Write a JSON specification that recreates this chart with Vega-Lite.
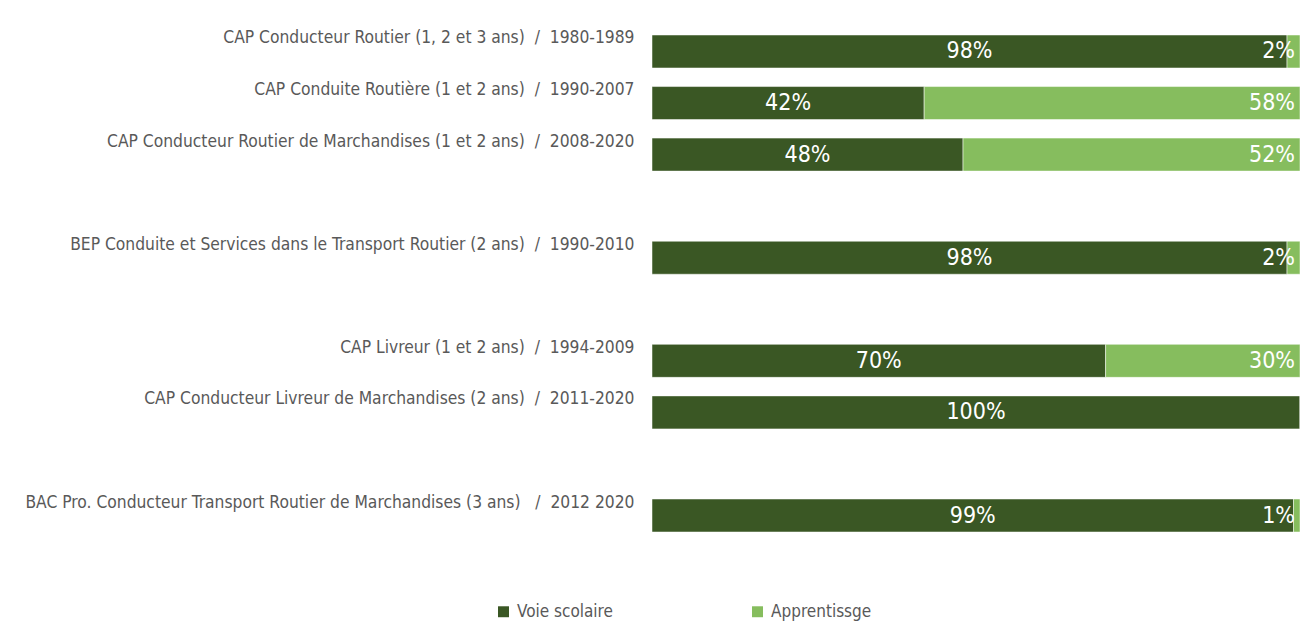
{
  "$schema": "https://vega.github.io/schema/vega-lite/v6.json",
  "autosize": {"type": "none"},
  "padding": {"left": 652, "top": 35, "right": 3, "bottom": 93},
  "width": 648,
  "height": 497,
  "background": "white",
  "config": {
    "font": "DejaVu Sans Condensed, sans-serif",
    "view": {"stroke": null}
  },
  "data": {
    "values": [
      {"label": "CAP Conducteur Routier (1, 2 et 3 ans)  /  1980-1989", "type": "Voie scolaire", "value": 0.98},
      {"label": "CAP Conducteur Routier (1, 2 et 3 ans)  /  1980-1989", "type": "Apprentissge", "value": 0.02},
      {"label": "CAP Conduite Routière (1 et 2 ans)  /  1990-2007", "type": "Voie scolaire", "value": 0.42},
      {"label": "CAP Conduite Routière (1 et 2 ans)  /  1990-2007", "type": "Apprentissge", "value": 0.58},
      {"label": "CAP Conducteur Routier de Marchandises (1 et 2 ans)  /  2008-2020", "type": "Voie scolaire", "value": 0.48},
      {"label": "CAP Conducteur Routier de Marchandises (1 et 2 ans)  /  2008-2020", "type": "Apprentissge", "value": 0.52},
      {"label": "BEP Conduite et Services dans le Transport Routier (2 ans)  /  1990-2010", "type": "Voie scolaire", "value": 0.98},
      {"label": "BEP Conduite et Services dans le Transport Routier (2 ans)  /  1990-2010", "type": "Apprentissge", "value": 0.02},
      {"label": "CAP Livreur (1 et 2 ans)  /  1994-2009", "type": "Voie scolaire", "value": 0.70},
      {"label": "CAP Livreur (1 et 2 ans)  /  1994-2009", "type": "Apprentissge", "value": 0.30},
      {"label": "CAP Conducteur Livreur de Marchandises (2 ans)  /  2011-2020", "type": "Voie scolaire", "value": 1.00},
      {"label": "CAP Conducteur Livreur de Marchandises (2 ans)  /  2011-2020", "type": "Apprentissge", "value": 0.0},
      {"label": "BAC Pro. Conducteur Transport Routier de Marchandises (3 ans)   /  2012 2020", "type": "Voie scolaire", "value": 0.99},
      {"label": "BAC Pro. Conducteur Transport Routier de Marchandises (3 ans)   /  2012 2020", "type": "Apprentissge", "value": 0.01}
    ]
  },
  "encoding": {
    "y": {
      "field": "label",
      "type": "nominal",
      "scale": {
        "domain": [
          "CAP Conducteur Routier (1, 2 et 3 ans)  /  1980-1989",
          "CAP Conduite Routière (1 et 2 ans)  /  1990-2007",
          "CAP Conducteur Routier de Marchandises (1 et 2 ans)  /  2008-2020",
          " ",
          "BEP Conduite et Services dans le Transport Routier (2 ans)  /  1990-2010",
          "  ",
          "CAP Livreur (1 et 2 ans)  /  1994-2009",
          "CAP Conducteur Livreur de Marchandises (2 ans)  /  2011-2020",
          "   ",
          "BAC Pro. Conducteur Transport Routier de Marchandises (3 ans)   /  2012 2020"
        ],
        "paddingInner": 0.36,
        "paddingOuter": 0
      },
      "axis": {
        "title": null,
        "ticks": false,
        "domain": false,
        "labelPadding": 18,
        "labelLimit": 700,
        "labelFontSize": 17.3,
        "labelColor": "#595959",
        "labelOffset": -13,
        "labelExpr": "replace(replace(datum.label, '  /  ', '\u00a0\u00a0/\u00a0\u00a0'), ')   /', ')\u00a0\u00a0\u00a0\u00a0/\u00a0')"
      }
    }
  },
  "layer": [
    {
      "mark": {"type": "bar", "stroke": "white", "strokeWidth": 0.5},
      "encoding": {
        "x": {"field": "value", "type": "quantitative", "stack": "zero", "scale": {"domain": [0, 1]}, "axis": null},
        "color": {
          "field": "type",
          "type": "nominal",
          "scale": {"domain": ["Voie scolaire", "Apprentissge"], "range": ["#3a5724", "#86bd5e"]},
          "legend": {
            "orient": "none",
            "legendX": -157,
            "legendY": 568,
            "direction": "horizontal",
            "title": null,
            "symbolType": "square",
            "symbolSize": 120,
            "symbolStrokeWidth": 0,
            "labelFontSize": 17,
            "labelColor": "#595959",
            "labelOffset": 5,
            "columnPadding": 136
          }
        },
        "order": {"field": "type", "sort": "descending"}
      }
    },
    {
      "transform": [{"filter": "datum.type == 'Voie scolaire'"}],
      "mark": {"type": "text", "color": "white", "fontSize": 23, "align": "center", "baseline": "middle"},
      "encoding": {
        "x": {"field": "value", "type": "quantitative", "scale": {"domain": [0, 2]}, "axis": null},
        "text": {"field": "value", "type": "quantitative", "format": ".0%"}
      }
    },
    {
      "transform": [{"filter": "datum.type == 'Apprentissge' && datum.value > 0"}],
      "mark": {"type": "text", "color": "white", "fontSize": 23, "align": "right", "baseline": "middle", "dx": -5},
      "encoding": {
        "x": {"value": "width"},
        "text": {"field": "value", "type": "quantitative", "format": ".0%"}
      }
    }
  ],
  "resolve": {"scale": {"x": "independent"}}
}
